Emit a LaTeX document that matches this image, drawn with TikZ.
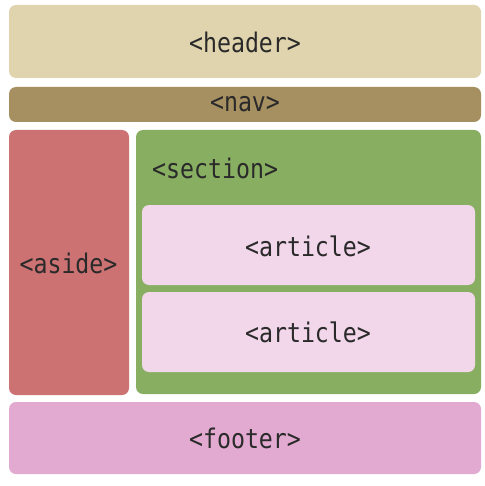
\documentclass[tikz,border=0pt]{standalone}
\usepackage{fontspec}
\newfontfamily\codefont[FakeStretch=0.86]{DejaVu Sans Mono}
\definecolor{cheader}{HTML}{E0D4AE}
\definecolor{cnav}{HTML}{A68F60}
\definecolor{caside}{HTML}{CC7272}
\definecolor{csection}{HTML}{88AE62}
\definecolor{carticle}{HTML}{F2D6EA}
\definecolor{cfooter}{HTML}{E2AAD0}
\definecolor{ctext}{HTML}{2A2A2A}
\begin{document}
\begin{tikzpicture}[x=1pt,y=-1pt,
  blk/.style={rounded corners=7pt, draw=none},
  lbl/.style={font=\codefont\fontsize{27}{30}\selectfont, text=ctext, inner sep=0pt}]
\useasboundingbox (0,0) rectangle (484,486);
\fill[white] (0,0) rectangle (484,486);
\fill[blk, cheader] (9,5) rectangle (481,78);
\fill[blk, cnav] (9,87) rectangle (481,122);
\fill[blk, caside] (9,130) rectangle (129,395);
\fill[blk, csection] (136,130) rectangle (481,394);
\fill[blk, carticle] (142,205) rectangle (475,285);
\fill[blk, carticle] (142,292) rectangle (475,372);
\fill[blk, cfooter] (9,402) rectangle (481,474);
\node[lbl] (header) at (245,42) {<header>};
\node[lbl] (nav) at (245,104.5) {<nav>};
\node[lbl] (aside) at (68.5,263) {<aside>};
\node[lbl, anchor=west] (section) at (152,168) {<section>};
\node[lbl] (article1) at (308,246) {<article>};
\node[lbl] (article2) at (308,332) {<article>};
\node[lbl] (footer) at (245,438) {<footer>};
\end{tikzpicture}
\end{document}
